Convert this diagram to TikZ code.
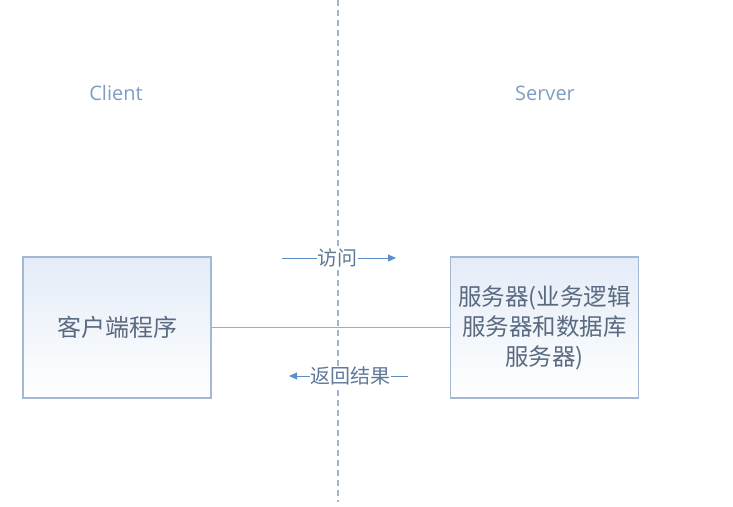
\documentclass[tikz,border=0pt]{standalone}
\usepackage{fontspec}
\setmainfont{Noto Sans CJK SC}
\newfontfamily\latinsans{Open Sans}
\usetikzlibrary{arrows.meta}
\definecolor{boxline}{HTML}{A3B8D4}
\definecolor{boxtop}{HTML}{E4ECF7}
\definecolor{boxtext}{HTML}{5A6A80}
\definecolor{lbl}{HTML}{7E9DC4}
\definecolor{arrowc}{HTML}{5A8FCB}
\definecolor{linkc}{HTML}{8FAFD6}
\definecolor{dashc}{HTML}{9FB5CF}
\definecolor{arrtext}{HTML}{62789A}
\tikzset{
  x=1pt,y=-1pt,
  proc/.style={draw=boxline, line width=1.2pt, top color=boxtop, bottom color=white,
    minimum width=188pt, minimum height=141pt, inner sep=0pt, text=boxtext,
    align=center},
  side/.style={text=lbl, font=\latinsans\fontsize{20}{24}\selectfont},
  flow/.style={draw=arrowc, line width=1pt, -{Triangle[length=8pt,width=7pt]}},
  flowlbl/.style={fill=white, text=arrtext, inner sep=0.5pt, font=\fontsize{20}{24}\selectfont},
}
\begin{document}
\begin{tikzpicture}
\useasboundingbox (0,0) rectangle (733,506);
\coordinate (dtop) at (338,0);
\coordinate (dbot) at (338,502);
\draw[dashc, line width=1.2pt, dash pattern=on 6pt off 4pt] (dtop) -- (dbot);
\node[side] (client) at (116,93) {Client};
\node[side] (server) at (545,93) {Server};
\node[proc, font=\fontsize{24}{30}\selectfont] (c) at (117,327.5) {客户端程序};
\node[proc, font=\fontsize{23.5}{30}\selectfont] (s) at (544.5,327.5) {服务器(业务逻辑\\服务器和数据库\\服务器)};
\draw[linkc, line width=1.2pt] (c.east) -- (s.west);
\coordinate (a1) at (282,258);
\coordinate (a2) at (396,258);
\draw[flow] (a1) -- node[flowlbl, pos=0.49] (t1) {访问} (a2);
\coordinate (b1) at (408,376);
\coordinate (b2) at (289,376);
\draw[flow] (b1) -- node[flowlbl, pos=0.48] (t2) {返回结果} (b2);
\end{tikzpicture}
\end{document}
